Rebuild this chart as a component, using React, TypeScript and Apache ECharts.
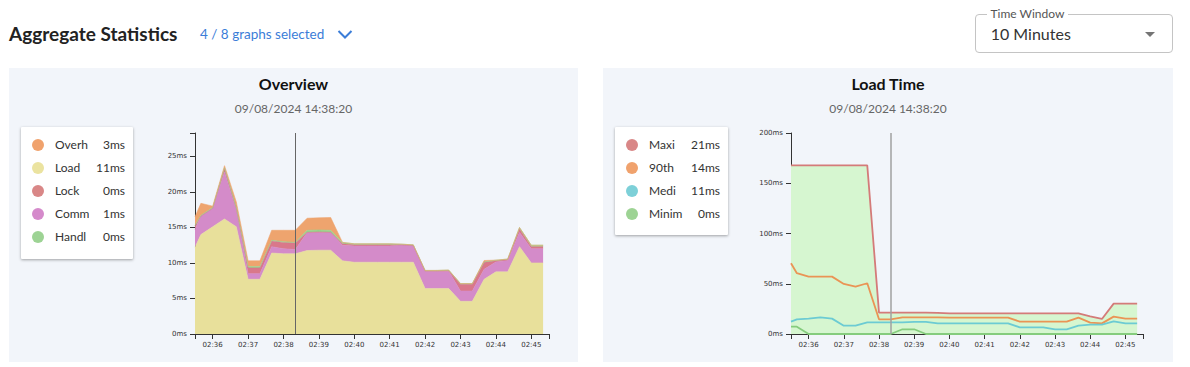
import React, { useEffect, useRef } from "react";
import * as echarts from "echarts";

// ---------- data ----------
const times = [
  "02:35:30", "02:35:40", "02:36:00", "02:36:20", "02:36:40", "02:37:00", "02:37:20", "02:37:40",
  "02:38:00", "02:38:20", "02:38:40", "02:39:00", "02:39:20", "02:39:40", "02:40:00", "02:40:20",
  "02:40:40", "02:41:00", "02:41:20", "02:41:40", "02:42:00", "02:42:20", "02:42:40", "02:43:00",
  "02:43:20", "02:43:40", "02:44:00", "02:44:20", "02:44:40", "02:45:00", "02:45:20",
];
const xMin = "02:35:30";
const xMax = "02:45:30";
const cursorTime = "02:38:20";
const xTickLabels = ["02:36", "02:37", "02:38", "02:39", "02:40", "02:41", "02:42", "02:43", "02:44", "02:45"];

// Overview (stacked, ms)
const loadMs = [12.2, 14.0, 15.1, 16.2, 15.1, 7.7, 7.7, 11.4, 11.3, 11.3, 11.75, 11.8, 11.8, 10.3, 10.1, 10.1, 10.1, 10.1, 10.1, 10.1, 6.4, 6.4, 6.4, 4.6, 4.6, 7.7, 8.75, 8.75, 12.3, 10.0, 10.0];
const commMs = [2.5, 2.6, 2.6, 6.6, 2.4, 0.8, 0.8, 0.9, 0.7, 0.6, 2.5, 2.5, 2.5, 2.2, 2.3, 2.3, 2.3, 2.3, 2.45, 2.35, 2.45, 2.45, 2.45, 1.45, 1.45, 1.4, 1.4, 1.6, 2.0, 2.0, 2.0];
const lockMs = [0.5, 0, 0, 0.5, 0.2, 0.8, 0.8, 0.8, 0.9, 0.9, 0.05, 0.05, 0, 0.2, 0.15, 0.15, 0.15, 0.15, 0, 0, 0, 0, 0.05, 0.95, 0.95, 1.0, 0.15, 0.1, 0.5, 0.3, 0.3];
const handleMs = [0.1, 0.1, 0.1, 0.1, 0.1, 0.2, 0.2, 0.1, 0.1, 0.1, 0.3, 0.3, 0.3, 0.2, 0.15, 0.15, 0.15, 0.15, 0.1, 0.1, 0.1, 0.1, 0.1, 0.1, 0.1, 0.05, 0.1, 0.1, 0.2, 0.2, 0.2];
const overheadMs = [1.2, 1.7, 0.2, 0.3, 0.8, 0.8, 0.8, 1.4, 1.6, 1.7, 1.7, 1.7, 1.8, 0, 0, 0, 0, 0, 0, 0, 0, 0, 0, 0, 0, 0.2, 0, 0, 0, 0, 0];
const overviewYMax = 28.3;
const overviewYTicks = [0, 5, 10, 15, 20, 25];

// Load time (ms)
const maxMs = [167.8, 167.8, 167.8, 167.8, 167.8, 167.8, 167.8, 167.8, 21.3, 21.3, 21.3, 21.3, 21.3, 21.0, 20.6, 20.6, 20.6, 20.6, 20.6, 20.6, 20.6, 20.6, 20.6, 20.6, 20.6, 20.6, 17.6, 15.0, 30.2, 30.2, 30.2];
const p90Ms = [70.4, 60.5, 57.1, 57.1, 57.1, 49.8, 47.2, 50.5, 14.6, 14.6, 16.6, 16.6, 16.6, 16.6, 16.3, 16.3, 16.3, 16.3, 16.3, 16.3, 12.3, 12.3, 12.3, 12.3, 12.3, 16.3, 11.3, 10.6, 17.3, 15.3, 15.3];
const medianMs = [12.3, 14.6, 15.3, 16.6, 15.3, 8.3, 8.3, 11.6, 11.6, 11.6, 11.6, 12.0, 12.0, 10.6, 10.6, 10.6, 10.6, 10.6, 10.6, 10.6, 6.6, 6.6, 6.6, 4.7, 4.7, 8.3, 9.3, 9.3, 12.6, 10.6, 10.6];
const minMs = [7.3, 7.3, 0, 0, 0, 0, 0, 0, 0, 0, 4.7, 4.7, 0, 0, 0, 0, 0, 0, 0, 0, 0, 0, 0, 0, 0, 0, 0, 0, 0, 0, 0];
const loadTimeYMax = 200;
const loadTimeYTicks = [0, 50, 100, 150, 200];

// legends (labels as they appear, truncated by the panel)
const overviewLegendNames = ["Overh", "Load", "Lock", "Comm", "Handl"];
const overviewLegendValues = ["3ms", "11ms", "0ms", "1ms", "0ms"];
const overviewLegendColors = ["#f0a26d", "#ebe3a0", "#d98787", "#d58acb", "#9dd394"];
const loadTimeLegendNames = ["Maxi", "90th", "Medi", "Minim"];
const loadTimeLegendValues = ["21ms", "14ms", "11ms", "0ms"];
const loadTimeLegendColors = ["#d98787", "#f0a26d", "#7dd0d8", "#9dd394"];

const dateText = "09/08/2024 14:38:20";

// ---------- helpers ----------
// x is expressed in seconds since midnight
const toSec = (hms: string) => {
  const p = hms.split(":").map(Number);
  return p[0] * 3600 + p[1] * 60 + (p[2] || 0);
};
const pad = (n: number) => (n < 10 ? "0" : "") + n;
const fmtTime = (v: number) => pad(Math.floor(v / 3600)) + ":" + pad(Math.floor((v % 3600) / 60));
const xs = times.map(toSec);
const xTickValues = xTickLabels.map(toSec);
const AXIS_FONT = "DejaVu Sans";
const AXIS_COLOR = "#333";

function baseAxes(yMax: number, yTicks: number[]) {
  const minX = toSec(xMin);
  const maxX = toSec(xMax);
  return {
    xAxis: {
      type: "value",
      min: minX,
      max: maxX,
      axisLine: { show: true, lineStyle: { color: AXIS_COLOR, width: 1 } },
      axisTick: { show: true, length: 5, lineStyle: { color: AXIS_COLOR }, customValues: [minX, ...xTickValues, maxX] },
      axisLabel: {
        customValues: xTickValues,
        formatter: (v: number) => fmtTime(v),
        fontSize: 7,
        fontFamily: AXIS_FONT,
        color: AXIS_COLOR,
        margin: 7,
        showMinLabel: true,
        showMaxLabel: true,
      },
      splitLine: { show: false },
    },
    yAxis: {
      type: "value",
      min: 0,
      max: yMax,
      axisLine: { show: true, lineStyle: { color: AXIS_COLOR, width: 1 } },
      axisTick: { show: true, length: 5, lineStyle: { color: AXIS_COLOR }, customValues: [...yTicks, yMax] },
      axisLabel: {
        customValues: yTicks,
        formatter: (v: number) => v + "ms",
        fontSize: 7,
        fontFamily: AXIS_FONT,
        color: AXIS_COLOR,
        margin: 8,
      },
      splitLine: { show: false },
    },
  };
}

// value first, time second, so that stacking works on the value dimension
const pairs = (arr: number[]) => arr.map((v, i) => [v, xs[i]]);

function overviewOption() {
  const layers = [
    { name: "Load", data: loadMs, color: "#e8e09b" },
    { name: "Commit", data: commMs, color: "#d48bc9" },
    { name: "Lock", data: lockMs, color: "#d9788a" },
    { name: "Handler", data: handleMs, color: "#98d38c" },
    { name: "Overhead", data: overheadMs, color: "#eea46e" },
  ];
  return {
    animation: false,
    grid: { left: 186, right: 29, top: 65, bottom: 28 },
    ...baseAxes(overviewYMax, overviewYTicks),
    series: layers.map((l, i) => ({
      name: l.name,
      type: "line",
      stack: "total",
      data: pairs(l.data),
      encode: { x: 1, y: 0 },
      symbol: "none",
      silent: true,
      lineStyle: { width: 0.6, color: l.color },
      itemStyle: { color: l.color },
      areaStyle: { color: l.color, opacity: 1 },
      markLine:
        i === layers.length - 1
          ? {
              silent: true,
              symbol: ["none", "none"],
              label: { show: false },
              lineStyle: { color: "#666", width: 1, type: "solid" },
              data: [{ xAxis: toSec(cursorTime) }],
            }
          : undefined,
    })),
  };
}

function loadTimeOption() {
  const lines = [
    { name: "Maximum", data: maxMs, color: "#d47b79" },
    { name: "90th Percentile", data: p90Ms, color: "#ea9455" },
    { name: "Median", data: medianMs, color: "#6ccbd3" },
    { name: "Minimum", data: minMs, color: "#85cc7d" },
  ];
  return {
    animation: false,
    grid: { left: 188, right: 30, top: 65, bottom: 28 },
    ...baseAxes(loadTimeYMax, loadTimeYTicks),
    series: lines.map((l, i) => ({
      name: l.name,
      type: "line",
      data: pairs(l.data),
      encode: { x: 1, y: 0 },
      symbol: "none",
      silent: true,
      lineStyle: { width: 1.8, color: l.color },
      itemStyle: { color: l.color },
      areaStyle: i === 0 ? { color: "#d6f6d0", opacity: 1 } : undefined,
      markLine:
        i === lines.length - 1
          ? {
              silent: true,
              symbol: ["none", "none"],
              label: { show: false },
              lineStyle: { color: "#a0a0a0", width: 1.5, type: "solid" },
              data: [{ xAxis: toSec(cursorTime) }],
            }
          : undefined,
    })),
  };
}

// ---------- components ----------
function Chart({ option, style }: { option: any; style: React.CSSProperties }) {
  const ref = useRef<HTMLDivElement>(null);
  useEffect(() => {
    const chart = echarts.init(ref.current!, null, { renderer: "svg" });
    chart.setOption(option);
    return () => chart.dispose();
  }, []);
  return <div ref={ref} style={style} />;
}

function Legend({
  names,
  values,
  colors,
  style,
}: {
  names: string[];
  values: string[];
  colors: string[];
  style: React.CSSProperties;
}) {
  return (
    <div
      style={{
        position: "absolute",
        background: "#fff",
        boxShadow: "0 1px 3px rgba(0,0,0,0.35)",
        borderRadius: 1,
        zIndex: 2,
        ...style,
      }}
    >
      {names.map((n, i) => (
        <div key={n} style={{ position: "absolute", left: 0, right: 0, top: 9 + 23 * i, height: 18 }}>
          <span
            style={{
              position: "absolute",
              left: 10.5,
              top: 3,
              width: 12,
              height: 12,
              borderRadius: "50%",
              background: colors[i],
            }}
          />
          <span
            style={{
              position: "absolute",
              left: 34,
              top: 0,
              width: 34,
              overflow: "hidden",
              whiteSpace: "nowrap",
              fontSize: 12,
              lineHeight: "18px",
              color: "#333",
            }}
          >
            {n}
          </span>
          <span
            style={{
              position: "absolute",
              right: 8,
              top: 0,
              fontSize: 12,
              lineHeight: "18px",
              color: "#333",
            }}
          >
            {values[i]}
          </span>
        </div>
      ))}
    </div>
  );
}

function Panel({
  left,
  width,
  title,
  option,
  legend,
}: {
  left: number;
  width: number;
  title: string;
  option: any;
  legend: React.ReactNode;
}) {
  return (
    <div style={{ position: "absolute", left, top: 68, width, height: 294, background: "#f2f5fa" }}>
      <div
        style={{
          position: "absolute",
          left: 0,
          width,
          top: 6,
          textAlign: "center",
          fontSize: 16,
          fontWeight: 700,
          lineHeight: "19px",
          color: "#111",
        }}
      >
        {title}
      </div>
      <div
        style={{
          position: "absolute",
          left: 0,
          width,
          top: 33,
          textAlign: "center",
          fontSize: 12,
          lineHeight: "15px",
          color: "#666",
        }}
      >
        {dateText}
      </div>
      <Chart option={option} style={{ position: "absolute", left: 0, top: 0, width, height: 294 }} />
      {legend}
    </div>
  );
}

export default function App() {
  return (
    <div
      style={{
        position: "fixed",
        left: 0,
        top: 0,
        width: 1190,
        height: 367,
        background: "#fff",
        fontFamily: "Lato, 'Noto Sans', sans-serif",
        overflow: "hidden",
      }}
    >
      <div
        style={{
          position: "absolute",
          left: 9,
          top: 21.6,
          fontSize: 19,
          fontWeight: 700,
          lineHeight: "24px",
          color: "#222",
          whiteSpace: "nowrap",
        }}
      >
        Aggregate Statistics
      </div>
      <div
        style={{
          position: "absolute",
          left: 200,
          top: 26,
          fontSize: 13.5,
          lineHeight: "17px",
          color: "#3b7dd8",
          whiteSpace: "nowrap",
        }}
      >
        4 / 8 graphs selected
      </div>
      <svg style={{ position: "absolute", left: 336, top: 28, width: 18, height: 12 }} viewBox="0 0 18 12">
        <polyline points="2.5,3 9,9.5 15.5,3" fill="none" stroke="#3b7dd8" strokeWidth={2} />
      </svg>

      {/* Time window select */}
      <div
        style={{
          position: "absolute",
          left: 975,
          top: 14,
          width: 198,
          height: 39,
          boxSizing: "border-box",
          border: "1px solid #c4c4c4",
          borderRadius: 4,
        }}
      />
      <div
        style={{
          position: "absolute",
          left: 986.5,
          top: 6.7,
          padding: "0 4px",
          background: "#fff",
          fontSize: 12,
          lineHeight: "14px",
          color: "#555",
          whiteSpace: "nowrap",
        }}
      >
        Time Window
      </div>
      <div
        style={{
          position: "absolute",
          left: 990.7,
          top: 24,
          fontSize: 16,
          lineHeight: "19px",
          color: "#333",
          whiteSpace: "nowrap",
        }}
      >
        10 Minutes
      </div>
      <div
        style={{
          position: "absolute",
          left: 1145,
          top: 32,
          width: 0,
          height: 0,
          borderLeft: "5px solid transparent",
          borderRight: "5px solid transparent",
          borderTop: "5px solid #757575",
        }}
      />

      <Panel
        left={9}
        width={569}
        title="Overview"
        option={overviewOption()}
        legend={
          <Legend
            names={overviewLegendNames}
            values={overviewLegendValues}
            colors={overviewLegendColors}
            style={{ left: 12, top: 59, width: 112, height: 132 }}
          />
        }
      />
      <Panel
        left={603}
        width={570}
        title="Load Time"
        option={loadTimeOption()}
        legend={
          <Legend
            names={loadTimeLegendNames}
            values={loadTimeLegendValues}
            colors={loadTimeLegendColors}
            style={{ left: 12, top: 59, width: 113, height: 108 }}
          />
        }
      />
    </div>
  );
}
